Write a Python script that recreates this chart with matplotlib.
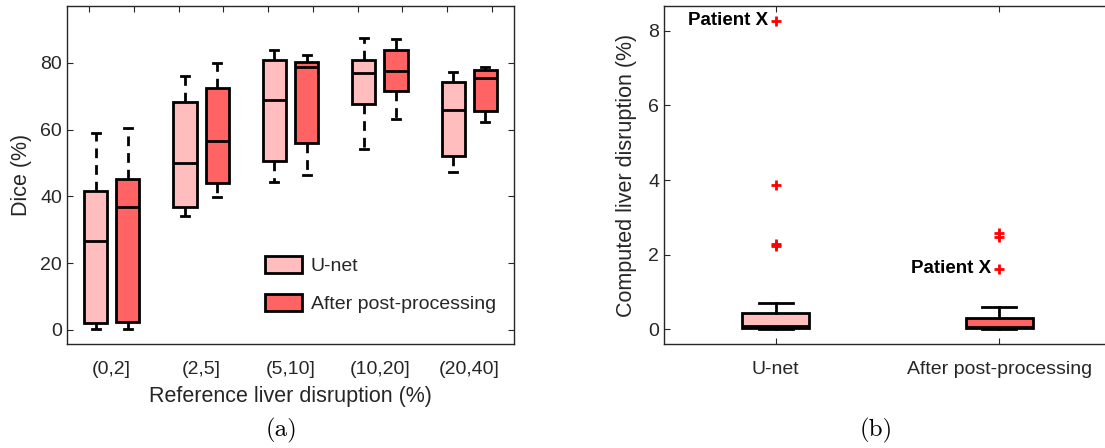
import matplotlib
matplotlib.use("Agg")
import matplotlib.pyplot as plt
from matplotlib.patches import Patch
import numpy as np

plt.rcParams["font.family"] = ["Liberation Sans", "DejaVu Sans"]

# ---- Panel (a): Dice per reference disruption range ----
groups = ["(0,2]", "(2,5]", "(5,10]", "(10,20]", "(20,40]"]

unet_whislo = [0.2, 34.2, 44.3, 54.3, 47.3]
unet_q1 = [2.2, 36.8, 50.6, 67.7, 52.0]
unet_med = [26.6, 50.0, 69.0, 77.0, 65.9]
unet_q3 = [41.7, 68.4, 80.9, 80.7, 74.3]
unet_whishi = [59.1, 76.1, 83.9, 87.5, 77.1]

post_whislo = [0.2, 39.8, 46.4, 63.1, 62.3]
post_q1 = [2.4, 44.1, 56.1, 71.7, 65.6]
post_med = [36.8, 56.7, 78.6, 77.6, 75.5]
post_q3 = [45.2, 72.5, 80.3, 83.8, 77.9]
post_whishi = [60.5, 79.9, 82.3, 87.1, 78.7]

# ---- Panel (b): computed liver disruption ----
methods = ["U-net", "After post-processing"]
comp_whislo = [0.0, 0.0]
comp_q1 = [0.02, 0.02]
comp_med = [0.08, 0.05]
comp_q3 = [0.42, 0.31]
comp_whishi = [0.69, 0.58]
comp_fliers = [[8.28, 3.87, 2.29, 2.22], [2.59, 2.47, 1.62]]
patient_x = [8.28, 1.62]

light_red = "#FFBDBD"
dark_red = "#FF6363"
axis_gray = "#262626"

W, H = 1105, 448
fig = plt.figure(figsize=(W / 100, H / 100), dpi=100)


def px_axes(x0, y0, x1, y1):
    return fig.add_axes([x0 / W, 1 - y1 / H, (x1 - x0) / W, (y1 - y0) / H])


def stats(lo, q1, med, q3, hi, fl=()):
    return dict(whislo=lo, q1=q1, med=med, q3=q3, whishi=hi, fliers=list(fl))


def style_axes(ax):
    for s in ax.spines.values():
        s.set_color(axis_gray)
        s.set_linewidth(1.0)
    ax.tick_params(colors=axis_gray, labelcolor=axis_gray, labelsize=14,
                   direction="in", length=4, width=0.8)


# ---------------- (a) ----------------
axA = px_axes(67, 6, 514, 344)
pos = np.arange(1, len(groups) + 1)
offset, bw = 0.18, 0.26
for vals, color, dx in [
    ((unet_whislo, unet_q1, unet_med, unet_q3, unet_whishi), light_red, -offset),
    ((post_whislo, post_q1, post_med, post_q3, post_whishi), dark_red, offset),
]:
    st = [stats(*v) for v in zip(*vals)]
    axA.bxp(st, positions=pos + dx, widths=bw, capwidths=0.09,
            patch_artist=True, showfliers=False, manage_ticks=False,
            boxprops=dict(facecolor=color, edgecolor="black", linewidth=2.0),
            medianprops=dict(color="black", linewidth=2.0),
            whiskerprops=dict(color="black", linewidth=2.0,
                              linestyle=(0, (3.5, 2.5))),
            capprops=dict(color="black", linewidth=2.0))

axA.set_xlim(0.5, len(groups) + 0.5)
axA.set_ylim(-4.2, 97)
axA.set_yticks([0, 20, 40, 60, 80])
axA.set_xticks(pos)
axA.set_xticklabels(groups)
axA.set_xticks(np.sort(np.concatenate([pos - 0.25, pos + 0.25])), minor=True)
style_axes(axA)
axA.tick_params(axis="x", which="major", length=0, pad=12)
axA.tick_params(axis="x", which="minor", bottom=False, top=True,
                direction="in", length=4, width=0.8, colors=axis_gray)
axA.tick_params(axis="y", right=True)
axA.set_ylabel("Dice (%)", fontsize=15.5, color=axis_gray, labelpad=6)
axA.set_xlabel("Reference liver disruption (%)", fontsize=15.5,
               color=axis_gray, labelpad=6)

handles = [Patch(facecolor=light_red, edgecolor="black", linewidth=2.0),
           Patch(facecolor=dark_red, edgecolor="black", linewidth=2.0)]
axA.legend(handles, ["U-net", "After post-processing"], loc="upper left",
           bbox_to_anchor=((265 - 67) / 447, (344 - 256) / 338),
           frameon=False, fontsize=14, borderpad=0, borderaxespad=0,
           handlelength=1.9, handleheight=1.0, handletextpad=0.45,
           labelspacing=0.95, labelcolor=axis_gray)

# ---------------- (b) ----------------
axB = px_axes(664, 6, 1111, 344)
pos_b = np.arange(1, len(methods) + 1)
for i, color in enumerate([light_red, dark_red]):
    st = [stats(comp_whislo[i], comp_q1[i], comp_med[i], comp_q3[i],
                comp_whishi[i], comp_fliers[i])]
    axB.bxp(st, positions=[pos_b[i]], widths=0.3, capwidths=0.15,
            patch_artist=True, showfliers=True, manage_ticks=False,
            boxprops=dict(facecolor=color, edgecolor="black", linewidth=2.0),
            medianprops=dict(color="black", linewidth=2.0),
            whiskerprops=dict(color="black", linewidth=2.0),
            capprops=dict(color="black", linewidth=2.0),
            flierprops=dict(marker="+", markeredgecolor="red",
                            markersize=7, markeredgewidth=2.0))

axB.set_xlim(0.5, len(methods) + 0.5)
axB.set_ylim(-0.4, 8.67)
axB.set_yticks([0, 2, 4, 6, 8])
axB.set_xticks(pos_b)
axB.set_xticklabels(methods)
style_axes(axB)
axB.tick_params(axis="x", top=True, pad=12)
axB.spines["right"].set_visible(False)
axB.set_ylabel("Computed liver disruption (%)", fontsize=15.5,
               color=axis_gray, labelpad=8)

for xi, yi in zip(pos_b, patient_x):
    axB.annotate("Patient X", xy=(xi, yi), xytext=(-8, 0),
                 textcoords="offset pixels", ha="right", va="center",
                 fontsize=13.5, fontweight="bold", color="black")

# panel captions
fig.text(281 / W, 1 - 430 / H, "(a)", fontname="cmr10", fontsize=18,
         ha="center", va="center", color="black")
fig.text(876 / W, 1 - 430 / H, "(b)", fontname="cmr10", fontsize=18,
         ha="center", va="center", color="black")

fig.savefig("out.png", dpi=100)
